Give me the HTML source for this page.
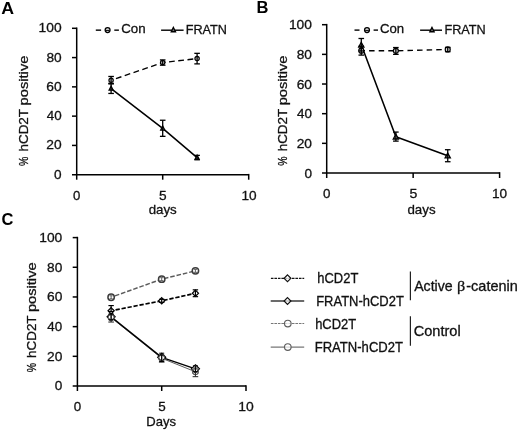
<!DOCTYPE html>
<html lang="en">
<head>
<meta charset="utf-8">
<title>Figure</title>
<style>
html,body{margin:0;padding:0;background:#fff;}
body{width:520px;height:430px;overflow:hidden;}
svg{display:block;font-family:'Liberation Sans',sans-serif;filter:blur(0.35px);}
</style>
</head>
<body>
<svg width="520" height="430" viewBox="0 0 520 430">
<rect x="0" y="0" width="520" height="430" fill="#ffffff"/>
<line x1="76.70" y1="27.50" x2="76.70" y2="179.70" stroke="#000" stroke-width="1.5"/>
<line x1="72.00" y1="174.70" x2="248.70" y2="174.70" stroke="#000" stroke-width="1.5"/>
<text transform="translate(54.11 178.70) scale(1.0009 1)" font-size="13.6" fill="#111" stroke="#111" stroke-width="0.3">0</text>
<line x1="72.00" y1="145.42" x2="76.70" y2="145.42" stroke="#000" stroke-width="1.5"/>
<text transform="translate(46.36 149.42) scale(1.0140 1)" font-size="13.6" fill="#111" stroke="#111" stroke-width="0.3">20</text>
<line x1="72.00" y1="116.14" x2="76.70" y2="116.14" stroke="#000" stroke-width="1.5"/>
<text transform="translate(46.75 120.14) scale(0.9874 1)" font-size="13.6" fill="#111" stroke="#111" stroke-width="0.3">40</text>
<line x1="72.00" y1="86.86" x2="76.70" y2="86.86" stroke="#000" stroke-width="1.5"/>
<text transform="translate(46.36 90.86) scale(1.0140 1)" font-size="13.6" fill="#111" stroke="#111" stroke-width="0.3">60</text>
<line x1="72.00" y1="57.58" x2="76.70" y2="57.58" stroke="#000" stroke-width="1.5"/>
<text transform="translate(46.47 61.58) scale(1.0066 1)" font-size="13.6" fill="#111" stroke="#111" stroke-width="0.3">80</text>
<line x1="72.00" y1="28.30" x2="76.70" y2="28.30" stroke="#000" stroke-width="1.5"/>
<text transform="translate(38.61 32.30) scale(1.0166 1)" font-size="13.6" fill="#111" stroke="#111" stroke-width="0.3">100</text>
<text transform="translate(72.92 199.70) scale(0.9701 1)" font-size="13.6" fill="#111" stroke="#111" stroke-width="0.3">0</text>
<line x1="162.70" y1="174.70" x2="162.70" y2="179.70" stroke="#000" stroke-width="1.5"/>
<text transform="translate(159.00 199.70) scale(1.0062 1)" font-size="13.6" fill="#111" stroke="#111" stroke-width="0.3">5</text>
<line x1="248.70" y1="173.90" x2="248.70" y2="179.70" stroke="#000" stroke-width="1.5"/>
<text transform="translate(241.43 199.70) scale(1.0025 1)" font-size="13.6" fill="#111" stroke="#111" stroke-width="0.3">10</text>
<text transform="translate(28.20 166.02) rotate(-90) scale(0.7735 1)" font-size="13.6" fill="#111" stroke="#111" stroke-width="0.3">%</text>
<text transform="translate(28.20 151.59) rotate(-90) scale(0.9923 1)" font-size="13.6" fill="#111" stroke="#111" stroke-width="0.3">hCD2T</text>
<text transform="translate(28.20 105.51) rotate(-90) scale(1.0842 1)" font-size="13.6" fill="#111" stroke="#111" stroke-width="0.3">positive</text>
<text transform="translate(148.68 213.60) scale(0.9792 1)" font-size="13.6" fill="#111" stroke="#111" stroke-width="0.3">days</text>
<text transform="translate(1.16 13.50) scale(1.0267 1)" font-size="17.3" font-weight="bold" fill="#000">A</text>
<polyline points="111.10,80.27 162.70,62.56 197.10,58.60" fill="none" stroke="#000" stroke-width="1.4" stroke-linejoin="round" stroke-dasharray="5.8 3.5" stroke-dashoffset="4.2"/>
<polyline points="111.10,88.62 162.70,128.44 197.10,157.57" fill="none" stroke="#000" stroke-width="1.55" stroke-linejoin="round"/>
<polygon points="111.10,86.22 109.10,90.22 113.10,90.22" fill="#999" stroke="#000" stroke-width="1.3" stroke-linejoin="miter"/>
<polygon points="162.70,126.04 160.70,130.04 164.70,130.04" fill="#999" stroke="#000" stroke-width="1.3" stroke-linejoin="miter"/>
<polygon points="197.10,155.17 195.10,159.17 199.10,159.17" fill="#999" stroke="#000" stroke-width="1.3" stroke-linejoin="miter"/>
<circle cx="111.10" cy="80.27" r="2.15" fill="#ddd" stroke="#000" stroke-width="1.2"/>
<circle cx="162.70" cy="62.56" r="2.15" fill="#ddd" stroke="#000" stroke-width="1.2"/>
<circle cx="197.10" cy="58.60" r="2.15" fill="#ddd" stroke="#000" stroke-width="1.2"/>
<line x1="111.10" y1="76.47" x2="111.10" y2="83.93" stroke="#000" stroke-width="1.3"/>
<line x1="108.30" y1="76.47" x2="113.90" y2="76.47" stroke="#000" stroke-width="1.3"/>
<line x1="108.30" y1="83.93" x2="113.90" y2="83.93" stroke="#000" stroke-width="1.3"/>
<line x1="162.70" y1="59.92" x2="162.70" y2="65.19" stroke="#000" stroke-width="1.3"/>
<line x1="159.90" y1="59.92" x2="165.50" y2="59.92" stroke="#000" stroke-width="1.3"/>
<line x1="159.90" y1="65.19" x2="165.50" y2="65.19" stroke="#000" stroke-width="1.3"/>
<line x1="197.10" y1="53.33" x2="197.10" y2="63.88" stroke="#000" stroke-width="1.3"/>
<line x1="194.30" y1="53.33" x2="199.90" y2="53.33" stroke="#000" stroke-width="1.3"/>
<line x1="194.30" y1="63.88" x2="199.90" y2="63.88" stroke="#000" stroke-width="1.3"/>
<line x1="111.10" y1="83.35" x2="111.10" y2="93.45" stroke="#000" stroke-width="1.3"/>
<line x1="108.30" y1="83.35" x2="113.90" y2="83.35" stroke="#000" stroke-width="1.3"/>
<line x1="108.30" y1="93.45" x2="113.90" y2="93.45" stroke="#000" stroke-width="1.3"/>
<line x1="162.70" y1="120.24" x2="162.70" y2="136.34" stroke="#000" stroke-width="1.3"/>
<line x1="159.90" y1="120.24" x2="165.50" y2="120.24" stroke="#000" stroke-width="1.3"/>
<line x1="159.90" y1="136.34" x2="165.50" y2="136.34" stroke="#000" stroke-width="1.3"/>
<line x1="197.10" y1="155.38" x2="197.10" y2="159.77" stroke="#000" stroke-width="1.3"/>
<line x1="194.30" y1="155.38" x2="199.90" y2="155.38" stroke="#000" stroke-width="1.3"/>
<line x1="194.30" y1="159.77" x2="199.90" y2="159.77" stroke="#000" stroke-width="1.3"/>
<line x1="95.80" y1="30.15" x2="101.10" y2="30.15" stroke="#000" stroke-width="1.4"/>
<line x1="114.30" y1="30.15" x2="118.90" y2="30.15" stroke="#000" stroke-width="1.4"/>
<circle cx="107.60" cy="30.10" r="2.45" fill="#ddd" stroke="#000" stroke-width="1.3"/>
<line x1="105.80" y1="30.40" x2="109.40" y2="30.40" stroke="#000" stroke-width="1.0"/>
<text transform="translate(121.18 33.40) scale(0.9804 1)" font-size="13.6" fill="#111" stroke="#111" stroke-width="0.3">Con</text>
<line x1="161.10" y1="30.20" x2="183.60" y2="30.20" stroke="#000" stroke-width="1.4"/>
<polygon points="173.40,27.36 171.25,31.76 175.55,31.76" fill="#777" stroke="#000" stroke-width="1.3" stroke-linejoin="miter"/>
<text transform="translate(185.71 33.50) scale(0.9313 1)" font-size="13.6" fill="#111" stroke="#111" stroke-width="0.3">FRATN</text>
<line x1="326.70" y1="23.90" x2="326.70" y2="178.00" stroke="#000" stroke-width="1.5"/>
<line x1="322.00" y1="173.00" x2="499.60" y2="173.00" stroke="#000" stroke-width="1.5"/>
<text transform="translate(304.41 177.50) scale(1.0009 1)" font-size="13.6" fill="#111" stroke="#111" stroke-width="0.3">0</text>
<line x1="322.00" y1="143.34" x2="326.70" y2="143.34" stroke="#000" stroke-width="1.5"/>
<text transform="translate(296.66 147.84) scale(1.0140 1)" font-size="13.6" fill="#111" stroke="#111" stroke-width="0.3">20</text>
<line x1="322.00" y1="113.68" x2="326.70" y2="113.68" stroke="#000" stroke-width="1.5"/>
<text transform="translate(297.05 118.18) scale(0.9874 1)" font-size="13.6" fill="#111" stroke="#111" stroke-width="0.3">40</text>
<line x1="322.00" y1="84.02" x2="326.70" y2="84.02" stroke="#000" stroke-width="1.5"/>
<text transform="translate(296.66 88.52) scale(1.0140 1)" font-size="13.6" fill="#111" stroke="#111" stroke-width="0.3">60</text>
<line x1="322.00" y1="54.36" x2="326.70" y2="54.36" stroke="#000" stroke-width="1.5"/>
<text transform="translate(296.77 58.86) scale(1.0066 1)" font-size="13.6" fill="#111" stroke="#111" stroke-width="0.3">80</text>
<line x1="322.00" y1="24.70" x2="326.70" y2="24.70" stroke="#000" stroke-width="1.5"/>
<text transform="translate(288.91 29.20) scale(1.0166 1)" font-size="13.6" fill="#111" stroke="#111" stroke-width="0.3">100</text>
<text transform="translate(323.11 198.40) scale(0.9855 1)" font-size="13.6" fill="#111" stroke="#111" stroke-width="0.3">0</text>
<line x1="413.15" y1="173.00" x2="413.15" y2="178.00" stroke="#000" stroke-width="1.5"/>
<text transform="translate(409.59 198.40) scale(1.0372 1)" font-size="13.6" fill="#111" stroke="#111" stroke-width="0.3">5</text>
<line x1="499.60" y1="172.20" x2="499.60" y2="178.00" stroke="#000" stroke-width="1.5"/>
<text transform="translate(492.03 198.40) scale(1.0025 1)" font-size="13.6" fill="#111" stroke="#111" stroke-width="0.3">10</text>
<text transform="translate(287.00 165.72) rotate(-90) scale(0.7712 1)" font-size="13.6" fill="#111" stroke="#111" stroke-width="0.3">%</text>
<text transform="translate(287.00 151.33) rotate(-90) scale(0.9896 1)" font-size="13.6" fill="#111" stroke="#111" stroke-width="0.3">hCD2T</text>
<text transform="translate(287.00 105.37) rotate(-90) scale(1.0812 1)" font-size="13.6" fill="#111" stroke="#111" stroke-width="0.3">positive</text>
<text transform="translate(407.48 213.60) scale(0.9792 1)" font-size="13.6" fill="#111" stroke="#111" stroke-width="0.3">days</text>
<text transform="translate(256.48 13.40) scale(0.9571 1)" font-size="17.3" font-weight="bold" fill="#000">B</text>
<polyline points="361.28,50.65 395.86,50.80 447.73,49.47" fill="none" stroke="#000" stroke-width="1.4" stroke-linejoin="round" stroke-dasharray="5.5 4.1" stroke-dashoffset="1.8"/>
<polyline points="361.28,44.72 395.86,136.67 447.73,155.65" fill="none" stroke="#000" stroke-width="1.55" stroke-linejoin="round"/>
<polygon points="361.28,42.24 358.68,47.04 363.88,47.04" fill="#aaa" stroke="#000" stroke-width="1.3" stroke-linejoin="miter"/>
<polygon points="395.86,134.19 393.26,138.99 398.46,138.99" fill="#aaa" stroke="#000" stroke-width="1.3" stroke-linejoin="miter"/>
<polygon points="447.73,153.17 445.13,157.97 450.33,157.97" fill="#aaa" stroke="#000" stroke-width="1.3" stroke-linejoin="miter"/>
<circle cx="361.28" cy="50.65" r="2.5" fill="#ddd" stroke="#000" stroke-width="1.2"/>
<circle cx="395.86" cy="50.80" r="2.5" fill="#ddd" stroke="#000" stroke-width="1.2"/>
<circle cx="447.73" cy="49.47" r="2.5" fill="#ddd" stroke="#000" stroke-width="1.2"/>
<line x1="361.28" y1="46.20" x2="361.28" y2="55.10" stroke="#000" stroke-width="1.3"/>
<line x1="358.48" y1="46.20" x2="364.08" y2="46.20" stroke="#000" stroke-width="1.3"/>
<line x1="358.48" y1="55.10" x2="364.08" y2="55.10" stroke="#000" stroke-width="1.3"/>
<line x1="395.86" y1="47.54" x2="395.86" y2="54.36" stroke="#000" stroke-width="1.3"/>
<line x1="393.06" y1="47.54" x2="398.66" y2="47.54" stroke="#000" stroke-width="1.3"/>
<line x1="393.06" y1="54.36" x2="398.66" y2="54.36" stroke="#000" stroke-width="1.3"/>
<line x1="447.73" y1="47.39" x2="447.73" y2="51.69" stroke="#000" stroke-width="1.3"/>
<line x1="444.93" y1="47.39" x2="450.53" y2="47.39" stroke="#000" stroke-width="1.3"/>
<line x1="444.93" y1="51.69" x2="450.53" y2="51.69" stroke="#000" stroke-width="1.3"/>
<line x1="361.28" y1="38.49" x2="361.28" y2="50.95" stroke="#000" stroke-width="1.3"/>
<line x1="358.48" y1="38.49" x2="364.08" y2="38.49" stroke="#000" stroke-width="1.3"/>
<line x1="358.48" y1="50.95" x2="364.08" y2="50.95" stroke="#000" stroke-width="1.3"/>
<line x1="395.86" y1="132.07" x2="395.86" y2="141.12" stroke="#000" stroke-width="1.3"/>
<line x1="393.06" y1="132.07" x2="398.66" y2="132.07" stroke="#000" stroke-width="1.3"/>
<line x1="393.06" y1="141.12" x2="398.66" y2="141.12" stroke="#000" stroke-width="1.3"/>
<line x1="447.73" y1="149.72" x2="447.73" y2="161.73" stroke="#000" stroke-width="1.3"/>
<line x1="444.93" y1="149.72" x2="450.53" y2="149.72" stroke="#000" stroke-width="1.3"/>
<line x1="444.93" y1="161.73" x2="450.53" y2="161.73" stroke="#000" stroke-width="1.3"/>
<line x1="354.50" y1="30.10" x2="359.50" y2="30.10" stroke="#000" stroke-width="1.4"/>
<line x1="373.60" y1="30.10" x2="378.00" y2="30.10" stroke="#000" stroke-width="1.4"/>
<circle cx="367.00" cy="30.10" r="2.45" fill="#ddd" stroke="#000" stroke-width="1.3"/>
<line x1="365.20" y1="30.40" x2="368.80" y2="30.40" stroke="#000" stroke-width="1.0"/>
<text transform="translate(379.89 33.30) scale(0.9718 1)" font-size="13.6" fill="#111" stroke="#111" stroke-width="0.3">Con</text>
<line x1="420.10" y1="30.20" x2="442.00" y2="30.20" stroke="#000" stroke-width="1.4"/>
<polygon points="432.00,27.36 429.85,31.76 434.15,31.76" fill="#777" stroke="#000" stroke-width="1.3" stroke-linejoin="miter"/>
<text transform="translate(444.40 33.50) scale(0.9337 1)" font-size="13.6" fill="#111" stroke="#111" stroke-width="0.3">FRATN</text>
<line x1="77.40" y1="236.80" x2="77.40" y2="391.00" stroke="#000" stroke-width="1.5"/>
<line x1="72.70" y1="386.00" x2="246.00" y2="386.00" stroke="#000" stroke-width="1.5"/>
<text transform="translate(54.71 390.30) scale(1.0009 1)" font-size="13.6" fill="#111" stroke="#111" stroke-width="0.3">0</text>
<line x1="72.70" y1="356.32" x2="77.40" y2="356.32" stroke="#000" stroke-width="1.5"/>
<text transform="translate(46.96 360.62) scale(1.0140 1)" font-size="13.6" fill="#111" stroke="#111" stroke-width="0.3">20</text>
<line x1="72.70" y1="326.64" x2="77.40" y2="326.64" stroke="#000" stroke-width="1.5"/>
<text transform="translate(47.35 330.94) scale(0.9874 1)" font-size="13.6" fill="#111" stroke="#111" stroke-width="0.3">40</text>
<line x1="72.70" y1="296.96" x2="77.40" y2="296.96" stroke="#000" stroke-width="1.5"/>
<text transform="translate(46.96 301.26) scale(1.0140 1)" font-size="13.6" fill="#111" stroke="#111" stroke-width="0.3">60</text>
<line x1="72.70" y1="267.28" x2="77.40" y2="267.28" stroke="#000" stroke-width="1.5"/>
<text transform="translate(47.07 271.58) scale(1.0066 1)" font-size="13.6" fill="#111" stroke="#111" stroke-width="0.3">80</text>
<line x1="72.70" y1="237.60" x2="77.40" y2="237.60" stroke="#000" stroke-width="1.5"/>
<text transform="translate(39.21 241.90) scale(1.0166 1)" font-size="13.6" fill="#111" stroke="#111" stroke-width="0.3">100</text>
<text transform="translate(73.71 410.90) scale(0.9855 1)" font-size="13.6" fill="#111" stroke="#111" stroke-width="0.3">0</text>
<line x1="161.70" y1="386.00" x2="161.70" y2="391.00" stroke="#000" stroke-width="1.5"/>
<text transform="translate(158.31 410.90) scale(0.9907 1)" font-size="13.6" fill="#111" stroke="#111" stroke-width="0.3">5</text>
<line x1="246.00" y1="385.20" x2="246.00" y2="391.00" stroke="#000" stroke-width="1.5"/>
<text transform="translate(238.30 410.90) scale(1.0246 1)" font-size="13.6" fill="#111" stroke="#111" stroke-width="0.3">10</text>
<text transform="translate(36.40 372.32) rotate(-90) scale(0.7697 1)" font-size="13.6" fill="#111" stroke="#111" stroke-width="0.3">%</text>
<text transform="translate(36.40 357.96) rotate(-90) scale(0.9878 1)" font-size="13.6" fill="#111" stroke="#111" stroke-width="0.3">hCD2T</text>
<text transform="translate(36.40 312.08) rotate(-90) scale(1.0792 1)" font-size="13.6" fill="#111" stroke="#111" stroke-width="0.3">positive</text>
<text transform="translate(146.27 426.00) scale(0.9600 1)" font-size="13.6" fill="#111" stroke="#111" stroke-width="0.3">Days</text>
<text transform="translate(1.54 224.90) scale(0.9531 1)" font-size="17.3" font-weight="bold" fill="#000">C</text>
<polyline points="111.12,317.59 161.70,358.25 195.42,371.75" fill="none" stroke="#5c5c5c" stroke-width="1.0" stroke-linejoin="round"/>
<polyline points="111.12,316.85 161.70,357.36 195.42,368.79" fill="none" stroke="#000" stroke-width="1.35" stroke-linejoin="round"/>
<polyline points="111.12,297.26 161.70,279.15 195.42,270.84" fill="none" stroke="#5c5c5c" stroke-width="1.45" stroke-linejoin="round" stroke-dasharray="4.6 1.9" stroke-dashoffset="2.5"/>
<polyline points="111.12,310.76 161.70,300.82 195.42,293.25" fill="none" stroke="#000" stroke-width="1.7" stroke-linejoin="round" stroke-dasharray="4.3 1.8" stroke-dashoffset="1.6"/>
<circle cx="111.12" cy="317.59" r="3.0" fill="#fff" stroke="#5c5c5c" stroke-width="1.0"/>
<circle cx="161.70" cy="358.25" r="3.0" fill="#fff" stroke="#5c5c5c" stroke-width="1.0"/>
<circle cx="195.42" cy="371.75" r="3.0" fill="#fff" stroke="#5c5c5c" stroke-width="1.0"/>
<polygon points="111.12,312.75 115.22,316.85 111.12,320.95 107.02,316.85" fill="#fff" stroke="#000" stroke-width="1.1"/>
<polygon points="161.70,353.26 165.80,357.36 161.70,361.46 157.60,357.36" fill="#fff" stroke="#000" stroke-width="1.1"/>
<polygon points="195.42,364.69 199.52,368.79 195.42,372.89 191.32,368.79" fill="#fff" stroke="#000" stroke-width="1.1"/>
<circle cx="111.12" cy="317.59" r="3.0" fill="none" stroke="#5c5c5c" stroke-width="1.0"/>
<circle cx="161.70" cy="358.25" r="3.0" fill="none" stroke="#5c5c5c" stroke-width="1.0"/>
<circle cx="195.42" cy="371.75" r="3.0" fill="none" stroke="#5c5c5c" stroke-width="1.0"/>
<line x1="111.12" y1="314.62" x2="111.12" y2="322.04" stroke="#333" stroke-width="1.1"/>
<line x1="108.32" y1="314.62" x2="113.92" y2="314.62" stroke="#333" stroke-width="1.1"/>
<line x1="108.32" y1="322.04" x2="113.92" y2="322.04" stroke="#333" stroke-width="1.1"/>
<line x1="161.70" y1="355.28" x2="161.70" y2="362.11" stroke="#333" stroke-width="1.1"/>
<line x1="158.90" y1="355.28" x2="164.50" y2="355.28" stroke="#333" stroke-width="1.1"/>
<line x1="158.90" y1="362.11" x2="164.50" y2="362.11" stroke="#333" stroke-width="1.1"/>
<line x1="195.42" y1="368.04" x2="195.42" y2="376.65" stroke="#333" stroke-width="1.1"/>
<line x1="192.62" y1="368.04" x2="198.22" y2="368.04" stroke="#333" stroke-width="1.1"/>
<line x1="192.62" y1="376.65" x2="198.22" y2="376.65" stroke="#333" stroke-width="1.1"/>
<line x1="111.12" y1="313.88" x2="111.12" y2="319.81" stroke="#000" stroke-width="1.0"/>
<line x1="108.62" y1="313.88" x2="113.62" y2="313.88" stroke="#000" stroke-width="1.0"/>
<line x1="108.62" y1="319.81" x2="113.62" y2="319.81" stroke="#000" stroke-width="1.0"/>
<line x1="161.70" y1="353.20" x2="161.70" y2="361.51" stroke="#000" stroke-width="1.0"/>
<line x1="159.20" y1="353.20" x2="164.20" y2="353.20" stroke="#000" stroke-width="1.0"/>
<line x1="159.20" y1="361.51" x2="164.20" y2="361.51" stroke="#000" stroke-width="1.0"/>
<line x1="195.42" y1="365.82" x2="195.42" y2="371.75" stroke="#000" stroke-width="1.0"/>
<line x1="192.92" y1="365.82" x2="197.92" y2="365.82" stroke="#000" stroke-width="1.0"/>
<line x1="192.92" y1="371.75" x2="197.92" y2="371.75" stroke="#000" stroke-width="1.0"/>
<polygon points="111.12,307.66 114.22,310.76 111.12,313.86 108.02,310.76" fill="#fff" stroke="#000" stroke-width="1.2"/>
<polygon points="161.70,297.72 164.80,300.82 161.70,303.92 158.60,300.82" fill="#fff" stroke="#000" stroke-width="1.2"/>
<polygon points="195.42,290.15 198.52,293.25 195.42,296.35 192.32,293.25" fill="#fff" stroke="#000" stroke-width="1.2"/>
<line x1="111.12" y1="305.57" x2="111.12" y2="311.50" stroke="#000" stroke-width="1.2"/>
<line x1="108.42" y1="305.57" x2="113.82" y2="305.57" stroke="#000" stroke-width="1.2"/>
<line x1="108.42" y1="311.50" x2="113.82" y2="311.50" stroke="#000" stroke-width="1.2"/>
<line x1="161.70" y1="299.33" x2="161.70" y2="302.30" stroke="#000" stroke-width="1.2"/>
<line x1="159.00" y1="299.33" x2="164.40" y2="299.33" stroke="#000" stroke-width="1.2"/>
<line x1="159.00" y1="302.30" x2="164.40" y2="302.30" stroke="#000" stroke-width="1.2"/>
<line x1="195.42" y1="289.84" x2="195.42" y2="296.66" stroke="#000" stroke-width="1.2"/>
<line x1="192.72" y1="289.84" x2="198.12" y2="289.84" stroke="#000" stroke-width="1.2"/>
<line x1="192.72" y1="296.66" x2="198.12" y2="296.66" stroke="#000" stroke-width="1.2"/>
<circle cx="111.12" cy="297.26" r="3.2" fill="#fff" stroke="#3c3c3c" stroke-width="1.5"/>
<line x1="111.12" y1="295.77" x2="111.12" y2="298.74" stroke="#555" stroke-width="0.9"/>
<line x1="109.52" y1="295.77" x2="112.72" y2="295.77" stroke="#555" stroke-width="0.9"/>
<line x1="109.52" y1="298.74" x2="112.72" y2="298.74" stroke="#555" stroke-width="0.9"/>
<circle cx="161.70" cy="279.15" r="3.2" fill="#fff" stroke="#3c3c3c" stroke-width="1.5"/>
<line x1="161.70" y1="277.67" x2="161.70" y2="280.64" stroke="#555" stroke-width="0.9"/>
<line x1="160.10" y1="277.67" x2="163.30" y2="277.67" stroke="#555" stroke-width="0.9"/>
<line x1="160.10" y1="280.64" x2="163.30" y2="280.64" stroke="#555" stroke-width="0.9"/>
<circle cx="195.42" cy="270.84" r="3.2" fill="#fff" stroke="#3c3c3c" stroke-width="1.5"/>
<line x1="195.42" y1="269.36" x2="195.42" y2="272.33" stroke="#555" stroke-width="0.9"/>
<line x1="193.82" y1="269.36" x2="197.02" y2="269.36" stroke="#555" stroke-width="0.9"/>
<line x1="193.82" y1="272.33" x2="197.02" y2="272.33" stroke="#555" stroke-width="0.9"/>
<line x1="270.90" y1="278.30" x2="304.20" y2="278.30" stroke="#111" stroke-width="1.2" stroke-dasharray="2.6 0.9"/>
<polygon points="287.50,274.90 290.90,278.30 287.50,281.70 284.10,278.30" fill="rgba(255,255,255,0.7)" stroke="#111" stroke-width="1.2"/>
<line x1="270.70" y1="301.00" x2="304.20" y2="301.00" stroke="#3a3a3a" stroke-width="1.5"/>
<polygon points="287.50,297.60 290.90,301.00 287.50,304.40 284.10,301.00" fill="rgba(255,255,255,0.7)" stroke="#111" stroke-width="1.2"/>
<line x1="270.90" y1="323.50" x2="304.20" y2="323.50" stroke="#777" stroke-width="1.0" stroke-dasharray="2.6 0.9"/>
<circle cx="287.80" cy="323.50" r="3.3" fill="rgba(255,255,255,0.7)" stroke="#5e5e5e" stroke-width="1.15"/>
<line x1="270.70" y1="347.00" x2="304.20" y2="347.00" stroke="#777" stroke-width="1.25"/>
<circle cx="287.80" cy="347.00" r="3.3" fill="rgba(255,255,255,0.7)" stroke="#5e5e5e" stroke-width="1.15"/>
<text transform="translate(317.34 283.00) scale(0.9379 1)" font-size="13.8" fill="#111" stroke="#111" stroke-width="0.3">hCD2T</text>
<text transform="translate(316.18 305.70) scale(0.9411 1)" font-size="13.8" fill="#111" stroke="#111" stroke-width="0.3">FRATN-hCD2T</text>
<text transform="translate(315.14 329.40) scale(0.9403 1)" font-size="13.8" fill="#111" stroke="#111" stroke-width="0.3">hCD2T</text>
<text transform="translate(314.67 351.60) scale(0.9477 1)" font-size="13.8" fill="#111" stroke="#111" stroke-width="0.3">FRATN-hCD2T</text>
<line x1="410.40" y1="271.40" x2="410.40" y2="300.30" stroke="#222" stroke-width="1.2"/>
<line x1="410.40" y1="316.30" x2="410.40" y2="345.80" stroke="#222" stroke-width="1.2"/>
<text transform="translate(414.21 290.50) scale(1.0230 1)" font-size="13.8" fill="#111" stroke="#111" stroke-width="0.3">Active</text>
<text transform="translate(457.10 290.50) scale(1.0766 1)" font-size="15.0" font-family="Liberation Serif, serif" fill="#111" stroke="#111" stroke-width="0.3">β</text>
<text transform="translate(466.30 290.50) scale(1.0489 1)" font-size="13.8" fill="#111" stroke="#111" stroke-width="0.3">-catenin</text>
<text transform="translate(413.72 335.70) scale(1.0564 1)" font-size="13.8" fill="#111" stroke="#111" stroke-width="0.3">Control</text>
</svg>
</body>
</html>
